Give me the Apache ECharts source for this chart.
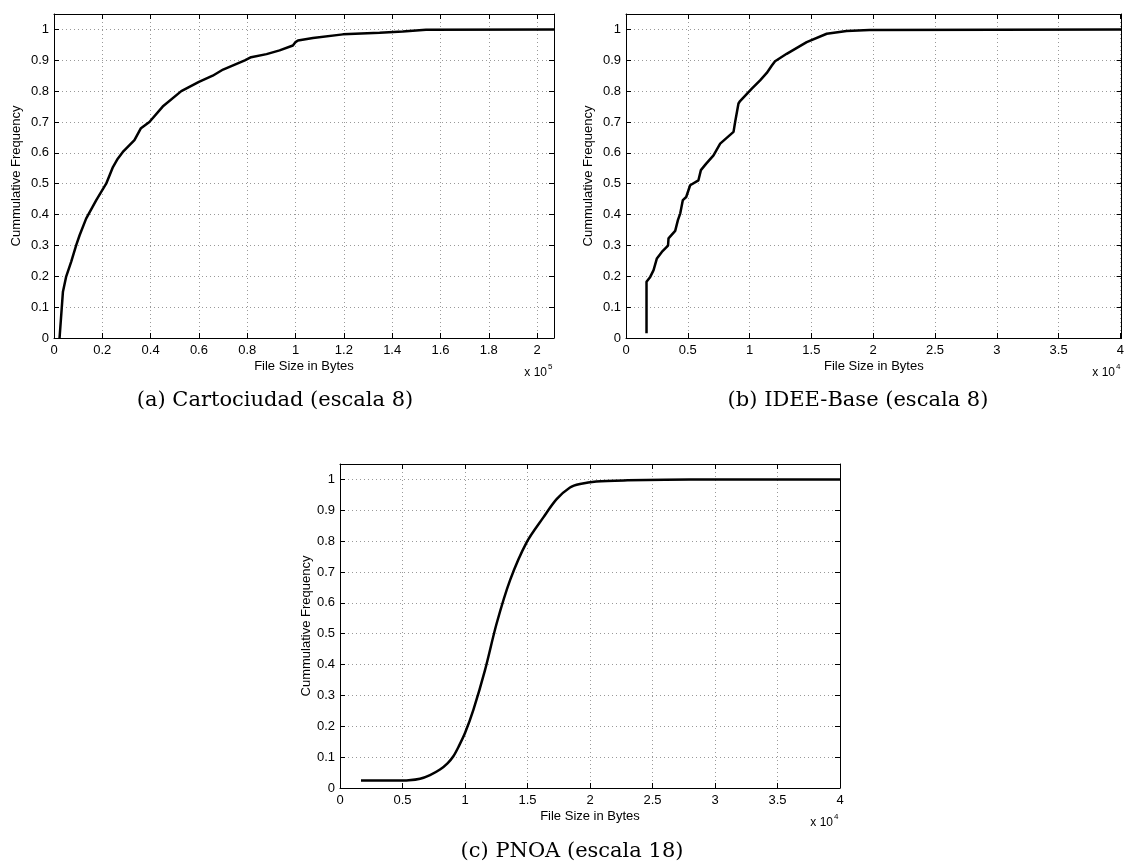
<!DOCTYPE html>
<html>
<head>
<meta charset="utf-8">
<script src="https://cdn.jsdelivr.net/npm/echarts@6/dist/echarts.min.js"></script>
<style>
  html, body { margin: 0; padding: 0; background: #fff; }
  #chart { width: 1127px; height: 864px; }
</style>
</head>
<body>
<div id="chart"></div>
<script>
// (a) Cartociudad, x in units of 10^5 bytes
var cartoX = [0.023, 0.026, 0.037, 0.05, 0.071, 0.092, 0.106, 0.133, 0.175, 0.216, 0.244, 0.264, 0.285, 0.333, 0.36, 0.395, 0.45, 0.527, 0.60, 0.657, 0.70, 0.79, 0.816, 0.88, 0.934, 0.989, 1.0, 1.01, 1.072, 1.196, 1.348, 1.444, 1.54, 2.07];
var cartoY = [0, 0.004, 0.15, 0.198, 0.247, 0.301, 0.333, 0.387, 0.447, 0.5, 0.554, 0.581, 0.603, 0.641, 0.68, 0.70, 0.75, 0.80, 0.83, 0.85, 0.87, 0.90, 0.91, 0.92, 0.932, 0.948, 0.959, 0.964, 0.972, 0.984, 0.989, 0.993, 0.999, 1.0];

// (b) IDEE-Base, x in units of 10^4 bytes
var ideeX = [0.166, 0.166, 0.196, 0.223, 0.25, 0.29, 0.34, 0.344, 0.398, 0.42, 0.439, 0.46, 0.487, 0.519, 0.586, 0.606, 0.649, 0.708, 0.762, 0.87, 0.883, 0.91, 0.923, 1.018, 1.085, 1.139, 1.18, 1.206, 1.30, 1.462, 1.624, 1.785, 1.97, 4.01];
var ideeY = [0.015, 0.182, 0.198, 0.22, 0.258, 0.279, 0.299, 0.323, 0.347, 0.382, 0.404, 0.447, 0.457, 0.495, 0.511, 0.544, 0.565, 0.592, 0.63, 0.668, 0.70, 0.76, 0.768, 0.808, 0.835, 0.859, 0.883, 0.897, 0.921, 0.959, 0.986, 0.995, 0.998, 1.0];

// (c) PNOA, x in units of 10^4 bytes
var pnoaX = [0.168, 0.3, 0.45, 0.55, 0.64, 0.72, 0.8, 0.86, 0.907, 0.95, 1.0, 1.067, 1.16, 1.253, 1.36, 1.493, 1.627, 1.733, 1.84, 1.92, 2.05, 2.3, 2.6, 3.0, 4.0];
var pnoaY = [0.024, 0.024, 0.024, 0.025, 0.03, 0.042, 0.06, 0.08, 0.103, 0.135, 0.178, 0.253, 0.382, 0.533, 0.673, 0.796, 0.877, 0.936, 0.974, 0.985, 0.993, 0.997, 0.999, 1.0, 1.0];

var captions = ['(a) Cartociudad (escala 8)', '(b) IDEE-Base (escala 8)', '(c) PNOA (escala 18)'];
var exponents = ['5', '4', '4'];

function zip(xs, ys) {
  return xs.map(function (x, i) { return [x, ys[i]]; });
}

var chart = echarts.init(document.getElementById('chart'));

var sans = 'Liberation Sans';
var grids = [
  { left: 54, top: 14, width: 500, height: 324 },
  { left: 626, top: 14, width: 496, height: 324 },
  { left: 340, top: 464, width: 500, height: 324 }
];
var xMax = [2.07, 4.01, 4];
var xStep = [0.2, 0.5, 0.5];
var showLast = [false, false, true];
var yNameGap = [31, 31, 27];

function fmt(v) {
  return String(+v.toFixed(2));
}

var xAxes = [];
var yAxes = [];
grids.forEach(function (g, i) {
  // bottom axis with labels and dotted grid
  xAxes.push({
    type: 'value', gridIndex: i, position: 'bottom',
    min: 0, max: xMax[i], interval: xStep[i],
    name: 'File Size in Bytes', nameLocation: 'middle', nameGap: 22,
    nameTextStyle: { fontFamily: sans, fontSize: 13, color: '#000' },
    axisLine: { onZero: false, lineStyle: { color: '#000', width: 1 } },
    axisTick: { inside: true, length: 5, lineStyle: { color: '#000' } },
    axisLabel: { color: '#000', fontFamily: sans, fontSize: 13, margin: 6, formatter: fmt, showMaxLabel: showLast[i] },
    splitLine: { show: true, lineStyle: { color: '#999', type: [1, 3], width: 1 } }
  });
  // top axis, box edge only
  xAxes.push({
    type: 'value', gridIndex: i, position: 'top',
    min: 0, max: xMax[i], interval: xStep[i],
    axisLine: { onZero: false, lineStyle: { color: '#000', width: 1 } },
    axisTick: { inside: true, length: 5, lineStyle: { color: '#000' } },
    axisLabel: { show: false },
    splitLine: { show: false }
  });
  yAxes.push({
    type: 'value', gridIndex: i, position: 'left',
    min: 0, max: 1.05, interval: 0.1,
    name: 'Cummulative Frequency', nameLocation: 'middle', nameRotate: 90, nameGap: yNameGap[i],
    nameTextStyle: { fontFamily: sans, fontSize: 13, color: '#000' },
    axisLine: { onZero: false, lineStyle: { color: '#000', width: 1 } },
    axisTick: { inside: true, length: 5, lineStyle: { color: '#000' } },
    axisLabel: { color: '#000', fontFamily: sans, fontSize: 13, margin: 5, formatter: fmt, showMaxLabel: false },
    splitLine: { show: true, lineStyle: { color: '#999', type: [1, 3], width: 1 } }
  });
  yAxes.push({
    type: 'value', gridIndex: i, position: 'right',
    min: 0, max: 1.05, interval: 0.1,
    axisLine: { onZero: false, lineStyle: { color: '#000', width: 1 } },
    axisTick: { inside: true, length: 5, lineStyle: { color: '#000' } },
    axisLabel: { show: false },
    splitLine: { show: false }
  });
});

var lineStyle = { color: '#000', width: 2.5 };
var series = [
  { type: 'line', xAxisIndex: 0, yAxisIndex: 0, data: zip(cartoX, cartoY), showSymbol: false, lineStyle: lineStyle },
  { type: 'line', xAxisIndex: 2, yAxisIndex: 2, data: zip(ideeX, ideeY), showSymbol: false, lineStyle: lineStyle },
  { type: 'line', xAxisIndex: 4, yAxisIndex: 4, data: zip(pnoaX, pnoaY), showSymbol: false, lineStyle: lineStyle, smooth: 0.3 }
];

// captions and "x 10^n" multipliers
var capPos = [[275, 401], [858, 401], [572, 852]];
var graphic = [];
captions.forEach(function (c, i) {
  graphic.push({
    type: 'text', x: capPos[i][0], y: capPos[i][1],
    style: { text: c, font: '21px "DejaVu Serif"', fill: '#000', align: 'center', verticalAlign: 'middle' }
  });
  var right = grids[i].left + grids[i].width;
  var base = grids[i].top + grids[i].height;
  graphic.push({
    type: 'text', x: right - 7, y: base + 35,
    style: { text: 'x 10', font: '12px "Liberation Sans"', fill: '#000', align: 'right', verticalAlign: 'middle' }
  });
  graphic.push({
    type: 'text', x: right - 6, y: base + 29,
    style: { text: exponents[i], font: '8px "Liberation Sans"', fill: '#000', align: 'left', verticalAlign: 'middle' }
  });
});

var option = {
  animation: false,
  grid: grids,
  xAxis: xAxes,
  yAxis: yAxes,
  series: series,
  graphic: graphic
};

chart.setOption(option);
</script>
</body>
</html>
